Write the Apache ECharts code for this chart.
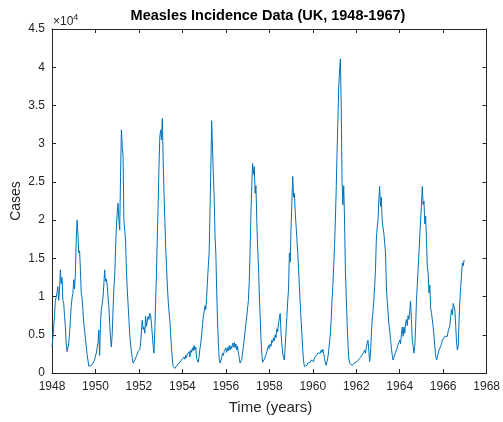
<!DOCTYPE html>
<html>
<head>
<meta charset="utf-8">
<script src="https://cdn.jsdelivr.net/npm/echarts@6/dist/echarts.min.js"></script>
<style>
  html, body { margin: 0; padding: 0; background: #ffffff; }
  #chart { width: 503px; height: 422px; }
</style>
</head>
<body>
<div id="chart"></div>
<script>
// Fortnightly measles notifications, 1948-1966
const startYear = 1948;
const samplesPerYear = 26;

const cases1948 = [3400, 4500, 6000, 7500, 9500, 9900, 10500, 11300, 9500, 10800, 13500, 11700, 12500, 9500, 9100, 7500, 6000, 3900, 2800, 2900, 3800, 5200, 7000, 8700, 9800, 10400];
const cases1949 = [12200, 11000, 13000, 17400, 20000, 18300, 15700, 16000, 13500, 10400, 9800, 8200, 6500, 5600, 4500, 3500, 2400, 1700, 900, 900, 950, 1000, 1200, 1300, 1500, 1700];
const cases1950 = [2200, 2600, 3300, 3900, 5600, 2300, 6500, 8200, 9000, 9900, 11500, 13500, 12000, 12300, 11500, 10000, 8700, 6500, 4500, 3400, 5000, 8200, 11000, 12600, 16100, 19100];
const cases1951 = [20900, 22200, 20000, 18700, 25700, 31800, 29600, 28500, 20000, 18700, 17400, 13500, 11000, 9000, 7000, 5000, 3800, 2800, 2000, 1270, 1500, 1700, 1900, 2200, 2500, 2800];
const cases1952 = [2900, 3100, 3800, 5500, 6900, 5700, 6000, 5200, 7400, 6100, 6800, 7400, 7000, 7800, 7500, 6500, 5000, 3600, 2600, 5500, 9400, 13000, 17900, 22000, 27000, 30900];
const cases1953 = [31800, 30500, 33300, 27800, 23500, 20000, 16500, 13900, 11500, 9500, 8000, 6900, 5000, 3200, 1800, 870, 700, 600, 800, 900, 1000, 1100, 1300, 1200, 1500, 1700];
const cases1954 = [1500, 1900, 2100, 1800, 2300, 2000, 2500, 2300, 2800, 2100, 3000, 2700, 3300, 2900, 3600, 3000, 3400, 1900, 1700, 1400, 2200, 3200, 3900, 5000, 6100, 7400];
const cases1955 = [8000, 8800, 8300, 10000, 12000, 14000, 15700, 21000, 26500, 33000, 29500, 26000, 23100, 18000, 15700, 11000, 6900, 4000, 1900, 1300, 1600, 2000, 2600, 2300, 2800, 3000];
const cases1956 = [3300, 2700, 3300, 2900, 3600, 3000, 3500, 3200, 3900, 3400, 4000, 3300, 3800, 3000, 3500, 2600, 2000, 1300, 1100, 1800, 2600, 3500, 4500, 5500, 6500, 7400];
const cases1957 = [8500, 9500, 12000, 16000, 21000, 24500, 27400, 26000, 27000, 23500, 24500, 20000, 16500, 14000, 10500, 7400, 4500, 2500, 1400, 1500, 1800, 2000, 2400, 2800, 3000, 3600];
const cases1958 = [3200, 3800, 3500, 4300, 4000, 4600, 4200, 5000, 4600, 5800, 5400, 6500, 7200, 7800, 5200, 3800, 2600, 2000, 1700, 3500, 5500, 7400, 9400, 11000, 15700, 14500];
const cases1959 = [19100, 22500, 25700, 23000, 23500, 21000, 20900, 17500, 15700, 13500, 11300, 9000, 6900, 5000, 3000, 1500, 870, 900, 1100, 1000, 1300, 1200, 1500, 1400, 1700, 1600];
const cases1960 = [1800, 1500, 2000, 1800, 2300, 2100, 2600, 2400, 2800, 2600, 3000, 2700, 3100, 2600, 1900, 1300, 1000, 1200, 2000, 2900, 4000, 5100, 7000, 9500, 11500, 13900];
const cases1961 = [16500, 20000, 24000, 28700, 33000, 37400, 39500, 41100, 35000, 25000, 22000, 24500, 20000, 13500, 10000, 6900, 4000, 2000, 1300, 1100, 1200, 1000, 1200, 1100, 1300, 1200];
const cases1962 = [1300, 1500, 1400, 1700, 1900, 1800, 2200, 2400, 2200, 2700, 3000, 2600, 3300, 3900, 4300, 3000, 1500, 2500, 4800, 6900, 8000, 9500, 11300, 13500, 17400, 19000];
const cases1963 = [20000, 22500, 24400, 21800, 23000, 20000, 19000, 18300, 17000, 15700, 11500, 9400, 8000, 6500, 5500, 4500, 3300, 2400, 1700, 2000, 2400, 2700, 3000, 3300, 3700, 4000];
const cases1964 = [4300, 3800, 5000, 6000, 4800, 6000, 5200, 6500, 7000, 6200, 7500, 7000, 8200, 9400, 7000, 4300, 3500, 2600, 3500, 6000, 9400, 11500, 13500, 15700, 18000, 20000];
const cases1965 = [22000, 24400, 22000, 22500, 19500, 20500, 17500, 14000, 13000, 10500, 11500, 8500, 7800, 7000, 6000, 4800, 3500, 2200, 1700, 2000, 2600, 3000, 3200, 3500, 3800, 4300];
const cases1966 = [4500, 4200, 4800, 4600, 5000, 4800, 5500, 5700, 6200, 7400, 8300, 7600, 9100, 8700, 8200, 6100, 4000, 3000, 3500, 6900, 9500, 11300, 13000, 14400, 14000, 14800];

const casesByYear = [
  cases1948, cases1949, cases1950, cases1951, cases1952, cases1953, cases1954,
  cases1955, cases1956, cases1957, cases1958, cases1959, cases1960, cases1961,
  cases1962, cases1963, cases1964, cases1965, cases1966
];

const xRange = { min: 1948, max: 1968, step: 2 };
const yRange = { min: 0, max: 45000, step: 5000 };

// [time in years, cases] pairs
const seriesData = [];
casesByYear.forEach((yearValues, y) => {
  yearValues.forEach((v, k) => {
    seriesData.push([startYear + y + k / samplesPerYear, v]);
  });
});

const axisColor = '#262626';
const fontFamily = 'Liberation Sans, Arial, Helvetica, sans-serif';

const chart = echarts.init(document.getElementById('chart'), null, { renderer: 'canvas' });

const boxX = {
  type: 'value', min: xRange.min, max: xRange.max, interval: xRange.step,
  axisLine: { show: true, onZero: false, lineStyle: { color: axisColor, width: 1 } },
  axisTick: { show: true, inside: true, length: 4, lineStyle: { color: axisColor } },
  splitLine: { show: false }
};
const boxY = {
  type: 'value', min: yRange.min, max: yRange.max, interval: yRange.step,
  axisLine: { show: true, onZero: false, lineStyle: { color: axisColor, width: 1 } },
  axisTick: { show: true, inside: true, length: 4, lineStyle: { color: axisColor } },
  splitLine: { show: false }
};

chart.setOption({
  animation: false,
  backgroundColor: '#ffffff',
  grid: { left: 52, right: 14, top: 29, bottom: 49, containLabel: false },
  xAxis: [
    Object.assign({}, boxX, {
      position: 'bottom',
      axisLabel: {
        show: true, color: axisColor, fontSize: 12, fontFamily: fontFamily, margin: 8,
        formatter: v => String(v)
      }
    }),
    Object.assign({}, boxX, { position: 'top', axisLabel: { show: false } })
  ],
  yAxis: [
    Object.assign({}, boxY, {
      position: 'left',
      axisLabel: {
        show: true, color: axisColor, fontSize: 12, fontFamily: fontFamily, margin: 7,
        formatter: v => String(v / 10000)
      }
    }),
    Object.assign({}, boxY, { position: 'right', axisLabel: { show: false } })
  ],
  series: [{
    type: 'line',
    xAxisIndex: 0,
    yAxisIndex: 0,
    data: seriesData,
    showSymbol: false,
    symbol: 'none',
    silent: true,
    lineStyle: { color: '#0072BD', width: 1 }
  }],
  graphic: [
    {
      type: 'text', x: 268, y: 16,
      style: {
        text: 'Measles Incidence Data (UK, 1948-1967)',
        fill: '#000000', font: 'bold 14.5px ' + fontFamily,
        align: 'center', verticalAlign: 'middle'
      }
    },
    {
      type: 'text', x: 53, y: 13,
      style: {
        text: '{b|×10}{s|4}',
        rich: {
          b: { fill: axisColor, fontSize: 12, fontFamily: fontFamily, verticalAlign: 'bottom' },
          s: { fill: axisColor, fontSize: 9, fontFamily: fontFamily, padding: [0, 0, 6, 0], verticalAlign: 'bottom' }
        }
      }
    },
    {
      type: 'text', x: 270.5, y: 408,
      style: {
        text: 'Time (years)', fill: axisColor, font: '15px ' + fontFamily,
        align: 'center', verticalAlign: 'middle'
      }
    },
    {
      type: 'text', x: 16, y: 201, rotation: Math.PI / 2,
      style: {
        text: 'Cases', fill: axisColor, font: '14px ' + fontFamily,
        align: 'center', verticalAlign: 'middle'
      }
    }
  ]
});
</script>
</body>
</html>
